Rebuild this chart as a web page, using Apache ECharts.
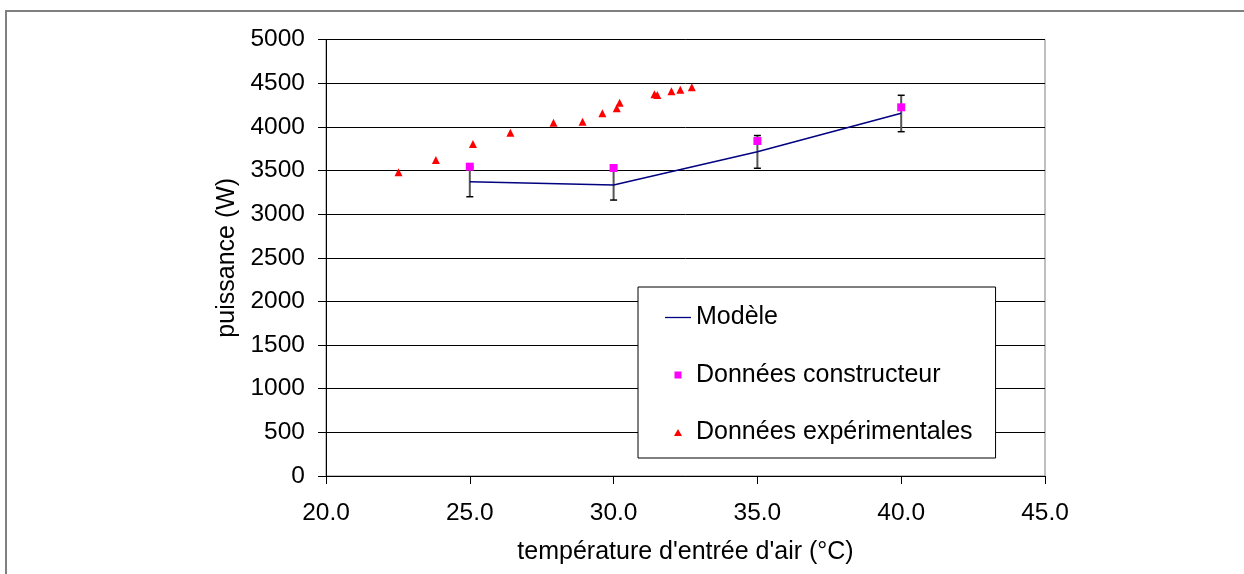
<!DOCTYPE html>
<html>
<head>
<meta charset="utf-8">
<script src="https://cdn.jsdelivr.net/npm/echarts@6/dist/echarts.min.js"></script>
<style>
html,body{margin:0;padding:0;background:#fff;}
#chart{width:1244px;height:574px;}
</style>
</head>
<body>
<div id="chart"></div>
<script>
// ---- data ----
const modelX = [25, 30, 35, 40];
const modelValues = [3371, 3333, 3715, 4155];
const errorLow = [3199, 3161, 3525, 3944];
const errorHigh = [3540, 3500, 3900, 4361];
const constructorValues = [3543, 3528, 3837, 4223];
const experimentalX = [22.52, 23.82, 25.11, 26.41, 27.91, 28.92, 29.61, 30.11, 30.21, 31.42, 31.52, 32.01, 32.32, 32.72];
const experimentalY = [3479, 3620, 3803, 3932, 4047, 4058, 4155, 4212, 4276, 4372, 4364, 4407, 4425, 4452];
const xTicks = [20, 25, 30, 35, 40, 45];
const yTicks = [0, 500, 1000, 1500, 2000, 2500, 3000, 3500, 4000, 4500, 5000];
const seriesNames = ['Modèle', 'Données constructeur', 'Données expérimentales'];
const xTitle = "température d'entrée d'air (°C)";
const yTitle = 'puissance (W)';

const FONT = "'Liberation Sans', Arial, sans-serif";

const modelData = modelX.map((x, i) => [x, modelValues[i]]);
const constructorData = modelX.map((x, i) => [x, constructorValues[i]]);
const errorData = modelX.map((x, i) => [x, errorLow[i], errorHigh[i]]);
const experimentalData = experimentalX.map((x, i) => [x, experimentalY[i]]);

const chart = echarts.init(document.getElementById('chart'), null, {renderer: 'canvas'});
chart.setOption({
  animation: false,
  backgroundColor: '#fff',
  textStyle: {fontFamily: FONT, color: '#000'},
  graphic: [{
    type: 'rect',
    z: 0,
    silent: true,
    shape: {x: 6, y: 11, width: 1400, height: 800},
    style: {fill: 'none', stroke: '#808080', lineWidth: 2}
  }],
  grid: {
    left: 326, top: 39.5, right: 199, bottom: 98,
    containLabel: false,
    show: true, borderColor: '#808080', borderWidth: 1, backgroundColor: 'transparent'
  },
  legend: {
    data: [
      {name: seriesNames[0], icon: 'path://M0,0H26V1.3H0Z', itemStyle: {color: '#000080'}},
      {name: seriesNames[1], icon: 'path://M0,0H8V8H0Z', itemStyle: {color: '#FF00FF'}},
      {name: seriesNames[2], icon: 'path://M4,0L8,7L0,7Z', itemStyle: {color: '#FF0000'}}
    ],
    orient: 'vertical',
    left: 638, top: 287,
    padding: [18, 23, 13, 27],
    itemGap: 32.5,
    itemWidth: 26, itemHeight: 7,
    symbolKeepAspect: true,
    backgroundColor: '#fff',
    borderColor: '#000', borderWidth: 1, borderRadius: 0,
    textStyle: {fontFamily: FONT, fontSize: 25, color: '#000', lineHeight: 24},
    selectedMode: false
  },
  xAxis: {
    type: 'value',
    min: xTicks[0], max: xTicks[xTicks.length - 1], interval: 5,
    name: xTitle, nameLocation: 'middle', nameGap: 64,
    nameTextStyle: {fontFamily: FONT, fontSize: 25, color: '#000'},
    axisLine: {show: true, onZero: false, lineStyle: {color: '#000', width: 1}},
    axisTick: {show: true, inside: false, length: 8, lineStyle: {color: '#000'}},
    axisLabel: {fontFamily: FONT, fontSize: 24.5, color: '#000', margin: 25, formatter: v => v.toFixed(1)},
    splitLine: {show: false}
  },
  yAxis: {
    type: 'value',
    min: yTicks[0], max: yTicks[yTicks.length - 1], interval: 500,
    name: yTitle, nameLocation: 'middle', nameGap: 74, nameRotate: 90,
    nameTextStyle: {fontFamily: FONT, fontSize: 25, color: '#000'},
    axisLine: {show: true, onZero: false, lineStyle: {color: '#000', width: 1}},
    axisTick: {show: true, inside: false, length: 8, lineStyle: {color: '#000'}},
    axisLabel: {fontFamily: FONT, fontSize: 24.5, color: '#000', margin: 21, formatter: v => String(v)},
    splitLine: {show: true, lineStyle: {color: '#000', width: 1}}
  },
  series: [
    {
      name: 'errorbars',
      type: 'custom',
      z: 2,
      silent: true,
      data: errorData,
      encode: {x: 0, y: [1, 2]},
      renderItem: function (params, api) {
        const x = api.value(0);
        const lo = api.coord([x, api.value(1)]);
        const hi = api.coord([x, api.value(2)]);
        const hw = 3.5;
        return {
          type: 'group',
          children: [
            {type: 'line', shape: {x1: lo[0], y1: lo[1], x2: hi[0], y2: hi[1]}, style: {stroke: '#555', lineWidth: 2}},
            {type: 'line', shape: {x1: lo[0] - hw, y1: lo[1], x2: lo[0] + hw, y2: lo[1]}, style: {stroke: '#000', lineWidth: 1.5}},
            {type: 'line', shape: {x1: hi[0] - hw, y1: hi[1], x2: hi[0] + hw, y2: hi[1]}, style: {stroke: '#000', lineWidth: 1.5}}
          ]
        };
      }
    },
    {
      name: seriesNames[0],
      type: 'line',
      z: 3,
      data: modelData,
      symbol: 'none',
      showSymbol: false,
      lineStyle: {color: '#000080', width: 1.5},
      itemStyle: {color: '#000080'}
    },
    {
      name: seriesNames[1],
      type: 'scatter',
      z: 4,
      data: constructorData,
      symbol: 'rect',
      symbolSize: 8,
      itemStyle: {color: '#FF00FF', opacity: 1}
    },
    {
      name: seriesNames[2],
      type: 'scatter',
      z: 4,
      data: experimentalData,
      symbol: 'triangle',
      symbolSize: 8,
      itemStyle: {color: '#FF0000', opacity: 1}
    }
  ]
});
</script>
</body>
</html>
